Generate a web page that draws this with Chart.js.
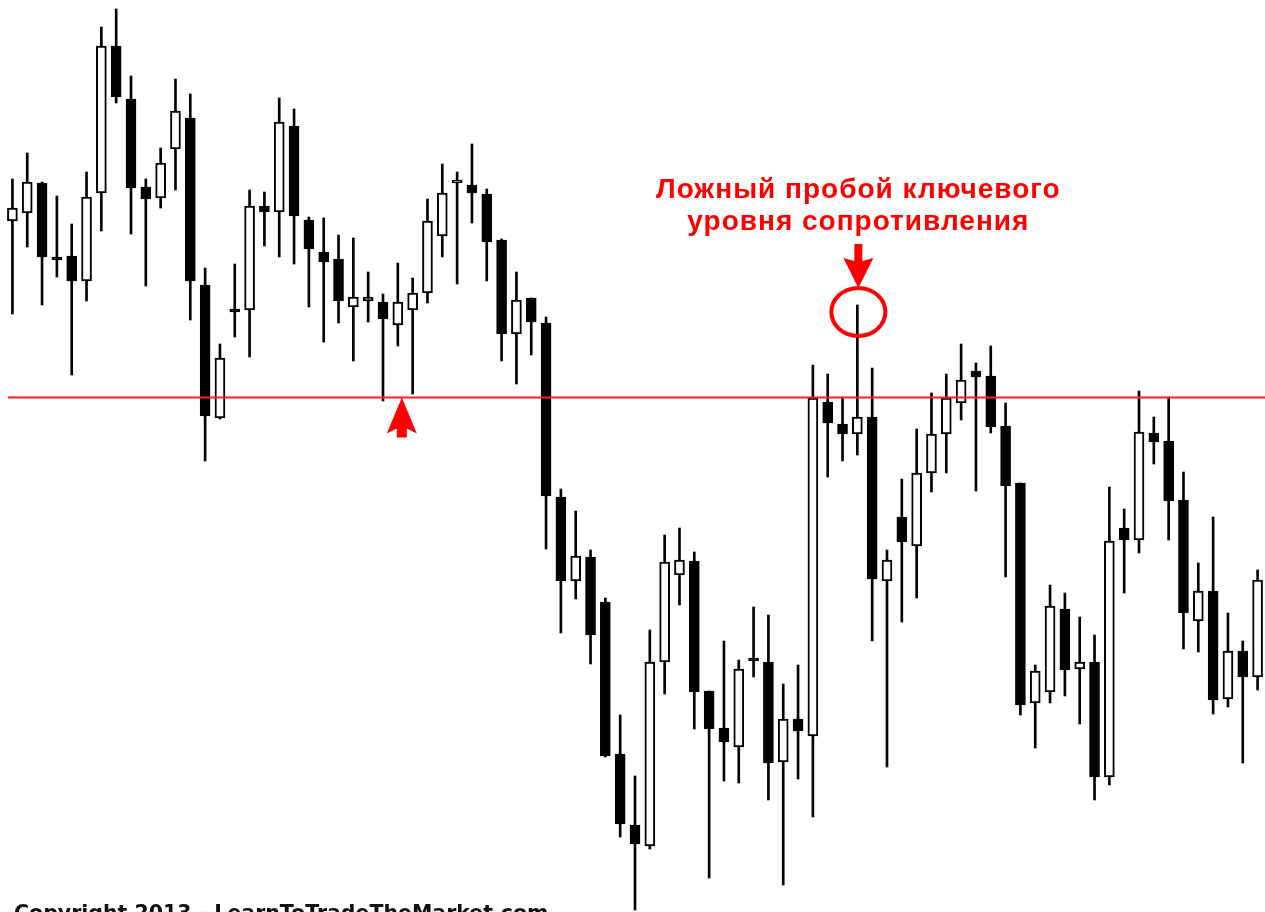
<!DOCTYPE html>
<html>
<head>
<meta charset="utf-8">
<script src="https://cdn.jsdelivr.net/npm/chart.js@4.4.1/dist/chart.umd.min.js"></script>
<style>
    html, body { margin: 0; padding: 0; background: #fff; overflow: hidden; }
    #chartBox { width: 1265px; height: 912px; }
</style>
</head>
<body>
<div id="chartBox"><canvas id="candles" width="1265" height="912"></canvas></div>
<script>
// price levels (no axis in the original, arbitrary units)
let opens = [699, 707, 737, 663, 664, 639, 727, 874, 821, 733, 722, 771, 802, 635, 502, 611, 610, 714, 708, 794,
    700, 668, 661, 613, 619, 618, 595, 610, 627, 684, 737, 735, 726, 680, 586, 622, 597, 423, 339, 363,
    318, 166, 95, 74, 258, 345, 359, 229, 192, 173, 262, 258, 158, 201, 184, 518, 496, 486, 503, 339,
    403, 374, 447, 486, 517, 549, 544, 494, 437, 217, 228, 311, 251, 258, 143, 392, 380, 487, 479, 420,
    299, 329, 221, 269, 243];
let highs = [741, 767, 738, 724, 696, 748, 893, 911, 844, 741, 772, 841, 826, 652, 576, 656, 730, 728, 822, 811,
    703, 702, 685, 682, 648, 626, 657, 642, 721, 756, 748, 776, 731, 681, 648, 622, 603, 431, 409, 370,
    322, 205, 144, 290, 385, 392, 368, 229, 279, 260, 313, 305, 236, 255, 555, 546, 523, 615, 552, 370,
    441, 491, 527, 546, 576, 557, 574, 517, 437, 255, 335, 327, 303, 285, 433, 411, 529, 503, 523, 448,
    357, 403, 307, 279, 350];
let lows = [606, 673, 615, 643, 545, 619, 689, 817, 686, 634, 712, 730, 600, 459, 501, 583, 563, 674, 663, 656,
    613, 578, 597, 559, 598, 519, 574, 526, 617, 663, 636, 697, 639, 559, 536, 565, 371, 287, 321, 256,
    163, 83, 10, 71, 226, 315, 191, 42, 139, 137, 243, 120, 35, 141, 103, 443, 459, 465, 279, 153,
    298, 322, 428, 447, 500, 429, 487, 343, 205, 172, 217, 224, 196, 120, 135, 327, 367, 456, 380, 271,
    268, 206, 213, 157, 230];
let closes = [712, 738, 663, 660, 639, 723, 874, 823, 732, 721, 757, 809, 639, 504, 562, 608, 714, 708, 798, 704,
    671, 658, 619, 623, 623, 601, 618, 627, 699, 727, 740, 727, 678, 586, 620, 598, 424, 339, 364, 285,
    164, 96, 76, 258, 358, 360, 228, 191, 178, 251, 259, 157, 201, 189, 522, 497, 486, 503, 341, 360,
    378, 447, 486, 522, 540, 543, 493, 434, 215, 249, 314, 250, 258, 143, 379, 380, 488, 478, 419, 307,
    329, 220, 269, 243, 340];
let resistanceLevel = 523;

// annotation spots
let falseBreakIndex = 57,
    falseBreakCircleLevel = 608,
    supportTouchIndex = 26,
    noteLines = ["Ложный пробой ключевого", "уровня сопротивления"],
    noteLevels = [730, 698],
    copyrightText = "Copyright 2013 - LearnToTradeTheMarket.com";

let labels = opens.map((v, i) => i);
let wicks = lows.map((l, i) => [l, highs[i]]);
let bodies = opens.map((o, i) => [o, closes[i]]);
let bodyColors = opens.map((o, i) => closes[i] < o ? "#000000" : "#ffffff");

const annotations = {
    id: "annotations",
    afterDatasetsDraw(chart) {
        const ctx = chart.ctx;
        const x = chart.scales.x,
            y = chart.scales.y,
            area = chart.chartArea;
        ctx.save();

        // resistance line
        let ly = Math.round(y.getPixelForValue(resistanceLevel)) + 0.5;
        ctx.strokeStyle = "#ff2020";
        ctx.lineWidth = 2;
        ctx.beginPath();
        ctx.moveTo(area.left + 3, ly);
        ctx.lineTo(area.right, ly);
        ctx.stroke();

        // up arrow under the retest
        let ax = x.getPixelForValue(supportTouchIndex) + 4;
        ctx.fillStyle = "#ff0000";
        ctx.beginPath();
        ctx.moveTo(ax, ly);
        ctx.lineTo(ax + 15, ly + 36);
        ctx.lineTo(ax + 5, ly + 31);
        ctx.lineTo(ax + 5, ly + 40);
        ctx.lineTo(ax - 5, ly + 40);
        ctx.lineTo(ax - 5, ly + 31);
        ctx.lineTo(ax - 15, ly + 36);
        ctx.closePath();
        ctx.fill();

        // circle on the false breakout wick
        let cx = x.getPixelForValue(falseBreakIndex) + 1;
        let cy = y.getPixelForValue(falseBreakCircleLevel);
        ctx.strokeStyle = "#ff0000";
        ctx.lineWidth = 4;
        ctx.beginPath();
        ctx.ellipse(cx, cy, 27, 24, 0, 0, Math.PI * 2);
        ctx.stroke();

        // down arrow
        let tipY = cy - 24;
        ctx.beginPath();
        ctx.moveTo(cx, tipY);
        ctx.lineTo(cx - 15, tipY - 30);
        ctx.lineTo(cx - 4, tipY - 27);
        ctx.lineTo(cx - 4, tipY - 44);
        ctx.lineTo(cx + 4, tipY - 44);
        ctx.lineTo(cx + 4, tipY - 27);
        ctx.lineTo(cx + 15, tipY - 30);
        ctx.closePath();
        ctx.fill();

        // note text
        ctx.font = "bold 28px 'Liberation Sans', Arial, sans-serif";
        ctx.letterSpacing = "1px";
        ctx.textAlign = "center";
        ctx.textBaseline = "middle";
        noteLines.forEach((t, i) => {
            ctx.fillText(t, cx, y.getPixelForValue(noteLevels[i]));
        });

        // copyright, cut off by the bottom edge
        ctx.letterSpacing = "0px";
        ctx.fillStyle = "#111111";
        ctx.font = "bold 20.5px 'DejaVu Sans', Verdana, sans-serif";
        ctx.textAlign = "left";
        ctx.textBaseline = "alphabetic";
        ctx.fillText(copyrightText, 14, 920);
        ctx.restore();
    }
};

const ctx = document.getElementById("candles").getContext("2d");
new Chart(ctx, {
    type: "bar",
    data: {
        labels: labels,
        datasets: [{
            label: "wick",
            data: wicks,
            backgroundColor: "#000000",
            barThickness: 2,
            grouped: false,
            order: 2
        }, {
            label: "body",
            data: bodies,
            backgroundColor: bodyColors,
            borderColor: "#000000",
            borderWidth: 2,
            borderSkipped: false,
            barThickness: 10,
            grouped: false,
            order: 1
        }]
    },
    options: {
        responsive: false,
        animation: false,
        layout: { padding: { left: 5, right: 0, top: 0, bottom: 0 } },
        plugins: {
            legend: { display: false },
            tooltip: { enabled: false }
        },
        scales: {
            x: { display: false, grid: { display: false } },
            y: { display: false, min: 8, max: 920, grid: { display: false } }
        }
    },
    plugins: [annotations]
});
</script>
</body>
</html>
